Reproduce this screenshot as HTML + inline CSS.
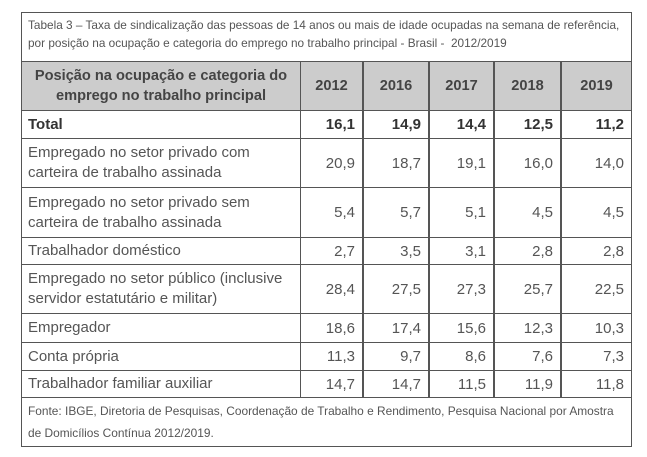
<!DOCTYPE html>
<html><head><meta charset="utf-8"><style>
html,body{margin:0;padding:0;background:#fff;width:647px;height:457px;overflow:hidden}
#t{position:absolute;left:0;top:0;width:647px;height:457px;font-family:"Liberation Sans",sans-serif;color:#555}
.c{position:absolute;box-sizing:border-box;border:1px solid #555;display:flex;align-items:center}
.txt{padding-left:6px;font-size:15px;line-height:20px}
.num{justify-content:flex-end;padding-right:7px;font-size:15px}
.hd{background:#cccccc;justify-content:center;text-align:center;font-weight:bold;font-size:14.6px;line-height:20px;color:#444}
.b{font-weight:bold;color:#333}
.cap{font-size:11.8px;line-height:18px;padding-left:6px;display:block;padding-top:3px}
</style></head><body>
<div id="t"></div>
<script>
const years=["2012","2016","2017","2018","2019"];
const categories=["Total","Empregado no setor privado com carteira de trabalho assinada","Empregado no setor privado sem carteira de trabalho assinada","Trabalhador doméstico","Empregado no setor público (inclusive servidor estatutário e militar)","Empregador","Conta própria","Trabalhador familiar auxiliar"];
const v2012=["16,1","20,9","5,4","2,7","28,4","18,6","11,3","14,7"];
const v2016=["14,9","18,7","5,7","3,5","27,5","17,4","9,7","14,7"];
const v2017=["14,4","19,1","5,1","3,1","27,3","15,6","8,6","11,5"];
const v2018=["12,5","16,0","4,5","2,8","25,7","12,3","7,6","11,9"];
const v2019=["11,2","14,0","4,5","2,8","22,5","10,3","7,3","11,8"];
const series=[v2012,v2016,v2017,v2018,v2019];
const colX=[21,300,363,429,494,561,632];
const rowY=[110,138,187,237,264,313,342,370,397];
const t=document.getElementById('t');
function cell(x1,y1,x2,y2,cls,html){const d=document.createElement('div');d.className='c '+cls;d.style.left=x1+'px';d.style.top=y1+'px';d.style.width=(x2-x1+1)+'px';d.style.height=(y2-y1+1)+'px';d.innerHTML=html;t.appendChild(d);return d;}
let e=cell(21,12,631,61,'cap','Tabela 3 – Taxa de sindicalização das pessoas de 14 anos ou mais de idade ocupadas na semana de referência,<br>por posição na ocupação e categoria do emprego no trabalho principal - Brasil -&nbsp; 2012/2019');


e=cell(21,61,300,110,'hd','Posição na ocupação e categoria do<br>emprego no trabalho principal');


years.forEach((y,j)=>{const h=cell(colX[j+1],61,colX[j+2]-1,110,'hd',y);

});
categories.forEach((c,i)=>{const y1=rowY[i],y2=rowY[i+1];const bold=i===0?' b':'';
const l=cell(21,y1,300,y2,'txt'+bold,c.replace(' carteira',(i===1||i===2)?'<br>carteira':' carteira').replace(' (inclusive servidor',' (inclusive<br>servidor'));


series.forEach((s,j)=>{const n=cell(colX[j+1],y1,colX[j+2]-1,y2,'num'+bold,s[i]);

});});
e=cell(21,397,631,446,'cap','Fonte: IBGE, Diretoria de Pesquisas, Coordenação de Trabalho e Rendimento, Pesquisa Nacional por Amostra<br>de Domicílios Contínua 2012/2019.');
e.style.lineHeight='22px';e.style.paddingTop='2px';e.style.fontSize='11.9px';


</script>
</body></html>
